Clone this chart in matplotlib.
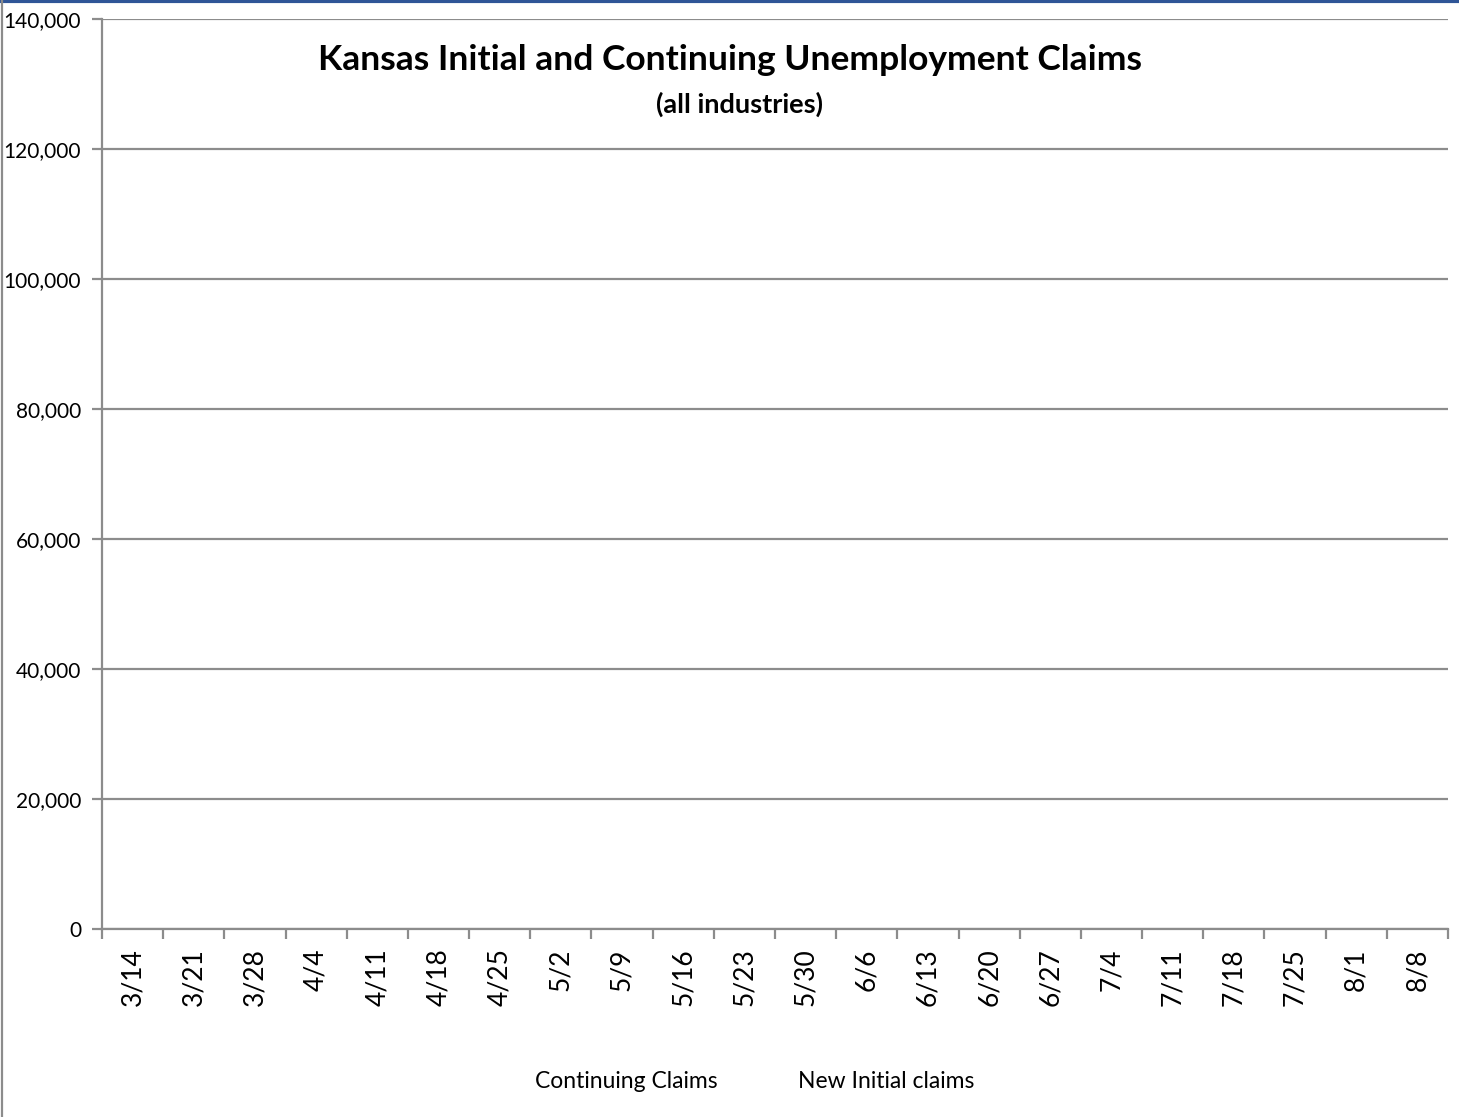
import matplotlib
matplotlib.use("Agg")
from matplotlib import pyplot as plt
from matplotlib.lines import Line2D

# Categorias (semanas) e séries do gráfico
semanas = ['3/14', '3/21', '3/28', '4/4', '4/11', '4/18', '4/25', '5/2', '5/9', '5/16', '5/23',
           '5/30', '6/6', '6/13', '6/20', '6/27', '7/4', '7/11', '7/18', '7/25', '8/1', '8/8']
series = ['Continuing Claims', 'New Initial claims']
valores_continuing = [None] * len(semanas)  # nenhum valor aparece no gráfico original
valores_iniciais = [None] * len(semanas)
y_ticks = [0, 20000, 40000, 60000, 80000, 100000, 120000, 140000]

plt.rcParams['font.family'] = ['Lato', 'DejaVu Sans']
cinza = '#8c8c8c'

fig = plt.figure(figsize=(14.59, 11.17), dpi=100)
ax = fig.add_axes([102 / 1459, 1 - 929 / 1117, (1448 - 102) / 1459, (929 - 19) / 1117])

x = list(range(len(semanas)))
ax.plot(x, [float('nan') if v is None else v for v in valores_continuing], color='#1f4e79')
ax.plot(x, [float('nan') if v is None else v for v in valores_iniciais], color='#c0504d')

ax.set_xlim(-0.5, len(semanas) - 0.5)
ax.set_ylim(0, 140000)
ax.set_yticks(y_ticks)
ax.set_yticklabels([f'{v:,}' for v in y_ticks], fontsize=15)
ax.yaxis.grid(True, color=cinza, linewidth=1.6)
ax.set_axisbelow(True)

ax.set_xticks(x)
ax.set_xticklabels(semanas, rotation=90, fontsize=19, va='top')
ax.tick_params(axis='x', which='major', length=0, pad=14)
ax.set_xticks([i - 0.5 for i in range(len(semanas) + 1)], minor=True)
ax.tick_params(axis='x', which='minor', length=7, width=1.6, color=cinza)
ax.tick_params(axis='y', length=7, width=1.6, color=cinza, pad=8)

for lado in ['top', 'right']:
    ax.spines[lado].set_visible(False)
for lado in ['left', 'bottom']:
    ax.spines[lado].set_color(cinza)
    ax.spines[lado].set_linewidth(1.6)

fig.text(0.5, 1 - 60 / 1117, 'Kansas Initial and Continuing Unemployment Claims',
         ha='center', va='center', fontsize=25.5, fontweight='bold')
fig.text(0.507, 1 - 104 / 1117, '(all industries)', ha='center', va='center',
         fontsize=19.5, fontweight='bold')

# Legenda sem marcadores, como no original
handles = [Line2D([], [], linestyle='none') for _ in series]
fig.legend(handles, series, loc='center', bbox_to_anchor=(755 / 1459, 1 - 1081 / 1117),
           ncol=2, frameon=False, fontsize=16.5, handlelength=0, handletextpad=0,
           columnspacing=3.5)

# Bordas da figura
fig.add_artist(Line2D([0, 1], [0.999, 0.999], transform=fig.transFigure, color='#2f5597', linewidth=3))
fig.add_artist(Line2D([0.0015, 0.0015], [0, 1], transform=fig.transFigure, color=cinza, linewidth=1.6))

plt.savefig('out.png', dpi=100)
